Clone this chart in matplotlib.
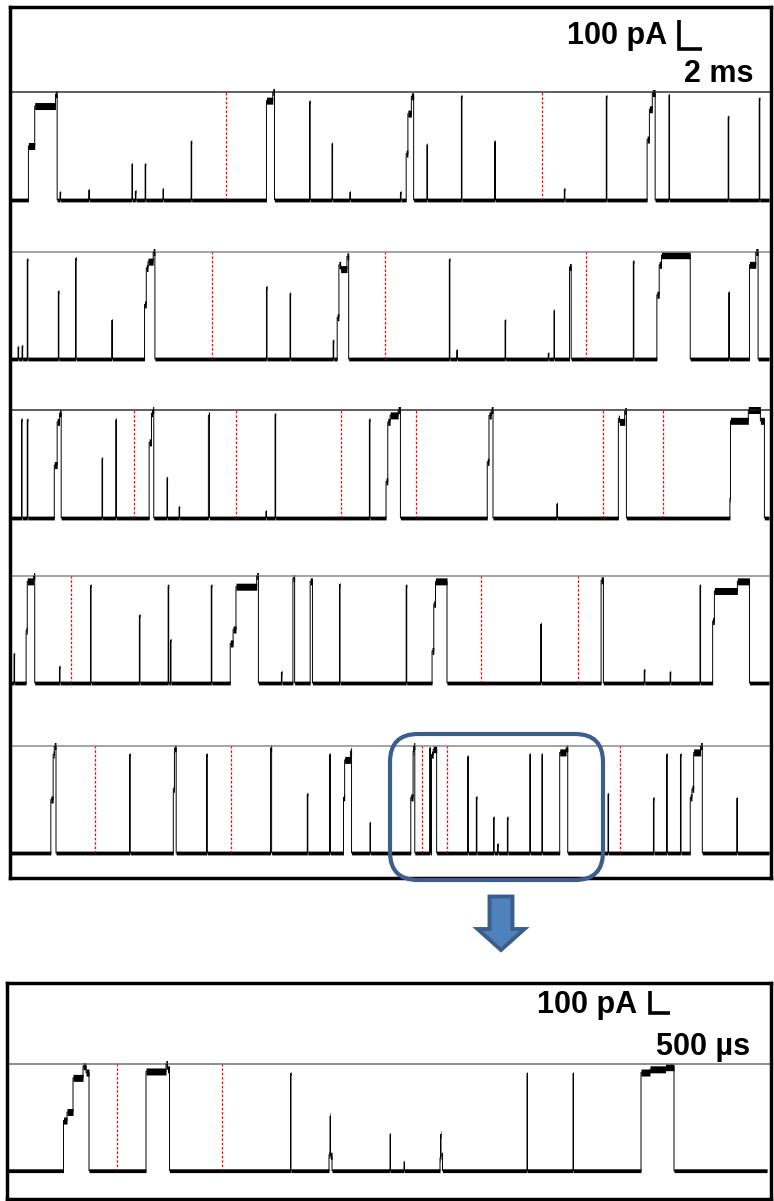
import numpy as np
import matplotlib.pyplot as plt
from matplotlib.patches import FancyBboxPatch, Polygon

W, H = 774, 1201

# recording constants
sweep_ms = 66.05        # one overview row
sweep_zoom_ms = 18.98   # expanded record
open_pA = 370.0
open_pA_zoom = 485.0

# brief openings: time (ms) and level (fraction of full opening)
# bursts: transition times (ms) and level after each transition
row1_brief_t = [4.35, 6.83, 10.57, 10.87, 11.74, 13.30, 15.74, 26.04, 28.0, 29.52,
                33.91, 36.22, 39.22, 42.14, 48.17, 51.83, 57.29, 62.43, 65.13]
row1_brief_lvl = [0.07, 0.09, 0.33, 0.08, 0.33, 0.10, 0.54, 0.91, 0.52, 0.07,
                  0.07, 0.51, 0.96, 0.54, 0.10, 0.96, 0.97, 0.77, 0.94]
row1_bursts = [([1.59, 2.11, 3.91, 4.06], [0.50, 0.87, 0.98, 0]),
               ([22.30, 22.83, 22.99], [0.92, 1.0, 0]),
               ([34.41, 34.58, 34.87, 35.10], [0.43, 0.80, 0.96, 0]),
               ([55.36, 55.57, 55.83, 56.09], [0.56, 0.84, 0.99, 0])]
row1_marks = [18.75, 46.26]

row2_brief_t = [0.70, 1.04, 1.48, 4.17, 5.70, 8.83, 22.30, 24.32, 28.06, 38.17,
                38.83, 43.04, 46.77, 47.29, 54.16, 62.48]
row2_brief_lvl = [0.11, 0.12, 0.93, 0.63, 0.94, 0.36, 0.67, 0.61, 0.17, 0.93,
                  0.08, 0.36, 0.05, 0.45, 0.91, 0.62]
row2_bursts = [([11.70, 11.83, 12.00, 12.43, 12.57], [0.51, 0.85, 0.91, 1.0, 0]),
               ([28.43, 28.57, 28.75, 29.30, 29.43], [0.39, 0.88, 0.84, 0.96, 0]),
               ([48.61, 48.78], [0.86, 0]),
               ([56.22, 56.43, 56.65, 59.13], [0.60, 0.88, 0.97, 0]),
               ([64.29, 64.83, 65.02], [0.88, 1.0, 0])]
row2_marks = [17.54, 32.57, 50.09]

row3_brief_t = [0.97, 1.49, 7.97, 9.17, 13.63, 14.70, 22.22, 23.04, 31.22, 47.55]
row3_brief_lvl = [0.91, 0.91, 0.55, 0.91, 0.37, 0.10, 0.06, 0.96, 0.91, 0.13]
row3_bursts = [([3.85, 4.07, 4.28, 4.45], [0.49, 0.89, 0.97, 0]),
               ([12.09, 12.26, 12.39, 12.48], [0.70, 0.97, 1.0, 0]),
               ([17.24, 17.35], [0.95, 0]),
               ([32.70, 32.83, 33.04, 33.72, 33.91], [0.34, 0.89, 0.95, 1.0, 0]),
               ([41.48, 41.63, 41.83, 41.97], [0.52, 0.95, 1.0, 0]),
               ([52.87, 53.00, 53.43, 53.60], [0.92, 0.89, 0.99, 0]),
               ([62.57, 62.65, 64.16, 65.23, 65.57], [0.18, 0.90, 1.0, 0.90, 0])]
row3_marks = [10.81, 19.69, 28.78, 35.27, 51.54, 56.78]

row4_brief_t = [0.33, 4.28, 6.98, 11.23, 13.72, 13.94, 17.50, 23.59, 28.61, 34.41,
                46.13, 55.13, 57.39, 60.0]
row4_brief_lvl = [0.27, 0.15, 0.91, 0.63, 0.91, 0.40, 0.91, 0.10, 0.92, 0.91,
                  0.55, 0.12, 0.10, 0.91]
row4_bursts = [([1.37, 1.49, 2.04, 2.13], [0.49, 0.95, 1.0, 0]),
               ([19.13, 19.39, 19.65, 21.45, 21.57], [0.37, 0.50, 0.90, 1.0, 0]),
               ([24.58, 24.71], [0.98, 0]),
               ([26.09, 26.26], [0.95, 0]),
               ([36.70, 36.83, 36.98, 37.97, 38.06, 38.10], [0.30, 0.74, 0.95, 0, -0.10, 0]),
               ([51.39, 51.57], [0.96, 0]),
               ([61.06, 61.23, 63.22, 64.29], [0.58, 0.86, 0.95, 0])]
row4_marks = [5.27, 40.93, 49.39]

row5_brief_t = [10.37, 17.07, 25.83, 27.80, 31.30, 36.48, 39.77, 40.55, 42.05, 42.39,
                43.25, 45.18, 46.22, 52.0, 55.91, 57.07, 58.26, 63.17]
row5_brief_lvl = [0.92, 0.92, 0.55, 0.92, 0.28, 0.98, 0.90, 0.52, 0.33, 0.08,
                  0.33, 0.92, 0.92, 0.55, 0.51, 0.92, 0.92, 0.51]
row5_bursts = [([3.55, 3.72, 3.85, 3.98], [0.50, 0.92, 1.0, 0]),
               ([14.16, 14.28, 14.41], [0.60, 0.98, 0]),
               ([22.61, 22.74], [0.98, 0]),
               ([28.96, 29.09, 29.57, 29.69], [0.52, 0.87, 0.95, 0]),
               ([34.84, 35.01, 35.10, 35.18], [0.52, 0.95, 1.0, 0]),
               ([36.61, 36.78, 37.07], [0.92, 0.97, 0]),
               ([47.76, 48.35, 48.49], [0.94, 0.98, 0]),
               ([59.13, 59.30, 59.43, 60.04, 60.17], [0.52, 0.60, 0.94, 1.0, 0])]
row5_marks = [7.42, 19.22, 35.83, 38.0, 53.0]

zoom_brief_t = [7.055, 9.55, 9.89, 12.975, 14.115]
zoom_brief_lvl = [0.91, 0.34, 0.08, 0.91, 0.91]
zoom_bursts = [([1.38, 1.475, 1.625, 1.87, 1.94, 2.02], [0.47, 0.55, 0.87, 0.98, 0.92, 0]),
               ([3.44, 3.945, 3.98, 4.03], [0.93, 1.0, 0.95, 0]),
               ([8.02, 8.045, 8.06, 8.10], [0.15, 0.51, 0.14, 0]),
               ([10.79, 10.81, 10.825, 10.86], [0.12, 0.34, 0.14, 0]),
               ([15.82, 16.05, 16.43, 16.64], [0.92, 0.95, 0.97, 0])]
zoom_marks = [2.725, 5.34]

rows = [(row1_brief_t, row1_brief_lvl, row1_bursts, row1_marks),
        (row2_brief_t, row2_brief_lvl, row2_bursts, row2_marks),
        (row3_brief_t, row3_brief_lvl, row3_bursts, row3_marks),
        (row4_brief_t, row4_brief_lvl, row4_bursts, row4_marks),
        (row5_brief_t, row5_brief_lvl, row5_bursts, row5_marks)]

# layout in pixels of the output picture
row_open_px = [92, 252, 410, 576, 746]
row_base_px = [200, 359, 518, 683, 853]
row_line_col = ['#333333', '#8a8a8a', '#333333', '#8a8a8a', '#8a8a8a']
px_per_ms = 11.5
px_per_ms_zoom = 40.0

plt.rcParams['font.family'] = ['Liberation Sans', 'DejaVu Sans']
fig = plt.figure(figsize=(W / 100, H / 100), dpi=100)


def px_axes(left, top, right, bottom, **kw):
    return fig.add_axes([left / W, 1 - bottom / H, (right - left) / W, (bottom - top) / H], **kw)


def build_trace(brief_t, brief_lvl, bursts, t_end, step):
    t = np.arange(0, t_end, step)
    y = np.zeros_like(t)
    wide = np.zeros(t.shape, dtype=bool)
    for tb, lv in zip(brief_t, brief_lvl):
        y[np.searchsorted(t, tb)] = lv
    for times, levels in bursts:
        for i in range(len(times) - 1):
            m = (t >= times[i]) & (t < times[i + 1])
            y[m] = levels[i]
            wide[m] = levels[i] != 0
    return t, y, wide


def draw_trace(ax, t, y, wide, amp, base_hw, open_hw):
    cur = y * amp
    hw = np.where(wide, open_hw, base_hw)
    ax.fill_between(t, cur - hw, cur + hw, step='post', color='black', lw=0)
    ax.plot(t, cur, color='black', lw=0.7, drawstyle='steps-post')


# overview rows
row_axes = []
for i, (bt, bl, bu, mk) in enumerate(rows):
    top, base = row_open_px[i], row_base_px[i]
    k = open_pA / (base - top)   # pA per pixel
    ax = px_axes(9, top - 4, 771, base + 10)
    ax.set_xlim((9 - 10) / px_per_ms, (771 - 10) / px_per_ms)
    ax.set_ylim(-10 * k, open_pA + 4 * k)
    ax.axis('off')
    ax.axhline(open_pA, color=row_line_col[i], lw=1.1)
    ax.vlines(mk, 0, open_pA, colors='red', linestyles=(0, (2, 1.5)), lw=0.9)
    t, y, wide = build_trace(bt, bl, bu, sweep_ms, 0.05)
    draw_trace(ax, t, y, wide, open_pA, 1.9 * k, 3.5 * k)
    row_axes.append(ax)

# scale bar, overview: 100 pA / 2 ms
ax = row_axes[0]
k = open_pA / (row_base_px[0] - row_open_px[0])
sb_t, sb_y = (678.5 - 10) / px_per_ms, (row_base_px[0] - 49) * k
ax.plot([sb_t, sb_t, sb_t + 2], [sb_y + 100, sb_y, sb_y], color='black', lw=2.6,
        clip_on=False, solid_capstyle='butt', solid_joinstyle='miter', zorder=6)

# expanded record
top, base = 1064, 1170.7
kz = open_pA_zoom / (base - top)
axz = px_axes(7, 1060, 771, 1181)
axz.set_xlim((7 - 8) / px_per_ms_zoom, (771 - 8) / px_per_ms_zoom)
axz.set_ylim(-(1181 - base) * kz, open_pA_zoom + 4 * kz)
axz.axis('off')
axz.axhline(open_pA_zoom, color='#707070', lw=1.1)
axz.vlines(zoom_marks, 0, open_pA_zoom, colors='red', linestyles=(0, (2, 1.5)), lw=0.9)
t, y, wide = build_trace(zoom_brief_t, zoom_brief_lvl, zoom_bursts, sweep_zoom_ms, 0.0125)
draw_trace(axz, t, y, wide, open_pA_zoom, 1.9 * kz, 3.5 * kz)
sb_t, sb_y = (649.5 - 8) / px_per_ms_zoom, (base - 1012.7) * kz
axz.plot([sb_t, sb_t, sb_t + 0.5], [sb_y + 100, sb_y, sb_y], color='black', lw=2.6,
         clip_on=False, solid_capstyle='butt', solid_joinstyle='miter', zorder=6)

# frames
for box in [(9.5, 6.5, 771, 878), (7, 983, 771, 1199)]:
    fr = px_axes(*box)
    fr.set_xticks([])
    fr.set_yticks([])
    fr.patch.set_visible(False)
    for s in fr.spines.values():
        s.set_linewidth(2.5)
    fr.set_zorder(5)

# labels
txt = dict(ha='right', va='baseline', fontsize=22, fontweight='bold')
fig.text(667 / W, 1 - 44 / H, '100 pA', **txt)
fig.text(753 / W, 1 - 82 / H, '2 ms', **txt)
fig.text(637 / W, 1 - 1013 / H, '100 pA', **txt)
fig.text(750 / W, 1 - 1055 / H, '500 µs', **txt)


# highlight box and arrow (pixel units via inches)
def inch(px, py):
    return px / 100, (H - py) / 100


x0, y0 = inch(390, 880)
rb = FancyBboxPatch((x0, y0), 2.13, 1.46, boxstyle='round,pad=0,rounding_size=0.28',
                    transform=fig.dpi_scale_trans, fill=False, ec='#3B5E8C', lw=3.0, zorder=10)
fig.patches.append(rb)

cx = 501
arrow_px = [(cx - 11.5, 896.5), (cx + 11.5, 896.5), (cx + 11.5, 929), (cx + 23.5, 929),
            (cx, 950), (cx - 23.5, 929), (cx - 11.5, 929)]
arr = Polygon([inch(px, py) for px, py in arrow_px], closed=True,
              transform=fig.dpi_scale_trans, fc='#4F81BD', ec='#3A5F8C', lw=2.8,
              joinstyle='miter', zorder=10)
fig.patches.append(arr)

fig.savefig('out.png', dpi=100)
